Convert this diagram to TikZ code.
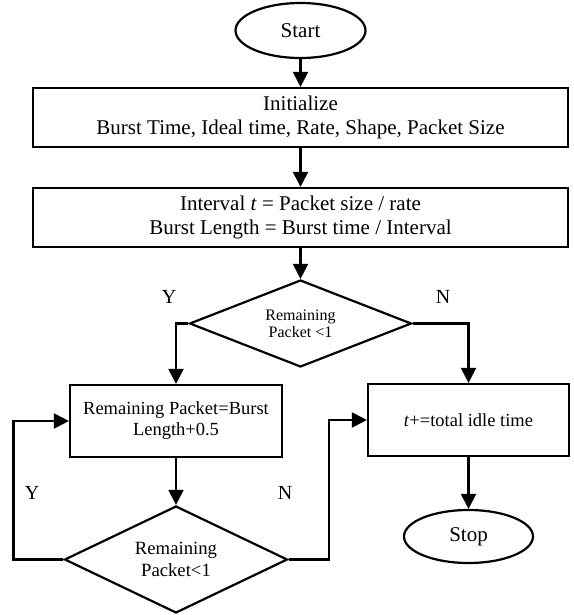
\documentclass[tikz,border=0pt]{standalone}
\usepackage{fontspec}
\setmainfont{Liberation Serif}
\usetikzlibrary{shapes.geometric,arrows.meta}
\begin{document}
\begin{tikzpicture}[x=1pt,y=-1pt,
  every node/.style={inner sep=0pt, align=center},
  conn/.style={line width=2.2pt, -{Triangle[length=15pt,width=15pt]}},
  plain/.style={line width=2.2pt},
  term/.style={ellipse, draw, line width=2.2pt, font=\fontsize{21}{24}\selectfont},
  bigbox/.style={rectangle, draw, line width=2.2pt, minimum width=535pt, minimum height=59pt, font=\fontsize{21}{24.5}\selectfont},
  box/.style={rectangle, draw, line width=2.2pt, minimum height=72pt, font=\fontsize{18.5}{21}\selectfont},
  dec/.style={diamond, draw, line width=2.2pt, inner sep=1pt},
  lab/.style={font=\fontsize{20}{24}\selectfont}
]
\useasboundingbox (0,0) rectangle (573,615);

\node[term, minimum width=130pt, minimum height=55pt] (start) at (300.5,30.5) {Start};
\node[bigbox] (init) at (300.5,117.5) {Initialize\\Burst Time, Ideal time, Rate, Shape, Packet Size};
\node[bigbox] (intv) at (300.5,217.5) {Interval \textit{t} = Packet size / rate\\Burst Length = Burst time / Interval};
\node[dec, minimum width=222pt, minimum height=87pt, aspect=2.55, font=\fontsize{16}{17}\selectfont] (d1) at (300.5,323.5) {Remaining\\Packet <1};
\node[box, minimum width=212pt] (rp) at (176,421) {Remaining Packet=Burst\\Length+0.5};
\node[box, minimum width=201pt] (idle) at (468.5,420) {\textit{t}+=total idle time};
\node[term, minimum width=129pt, minimum height=53pt] (stop) at (468.5,536.5) {Stop};
\node[dec, minimum width=223pt, minimum height=107pt, aspect=2.08, font=\fontsize{18.7}{22}\selectfont] (d2) at (176,559.5) {Remaining\\Packet<1};

\node[lab] (y1) at (169,297) {Y};
\node[lab] (n1) at (443,297) {N};
\node[lab] (y2) at (32,493) {Y};
\node[lab] (n2) at (285,493) {N};

\draw[conn] (start) -- (init);
\draw[conn] (init) -- (intv);
\draw[conn] (intv) -- (d1);
\draw[conn] (d1.west) -| (rp.north);
\draw[conn] (d1.east) -| (idle.north);
\draw[conn] (rp) -- (d2);
\draw[conn] (idle) -- (stop);
\draw[conn] (d2.west) -- ++(-50,0) |- (rp.west);
\draw[conn] (d2.east) -- ++(40,0) |- (idle.west);
\end{tikzpicture}
\end{document}
